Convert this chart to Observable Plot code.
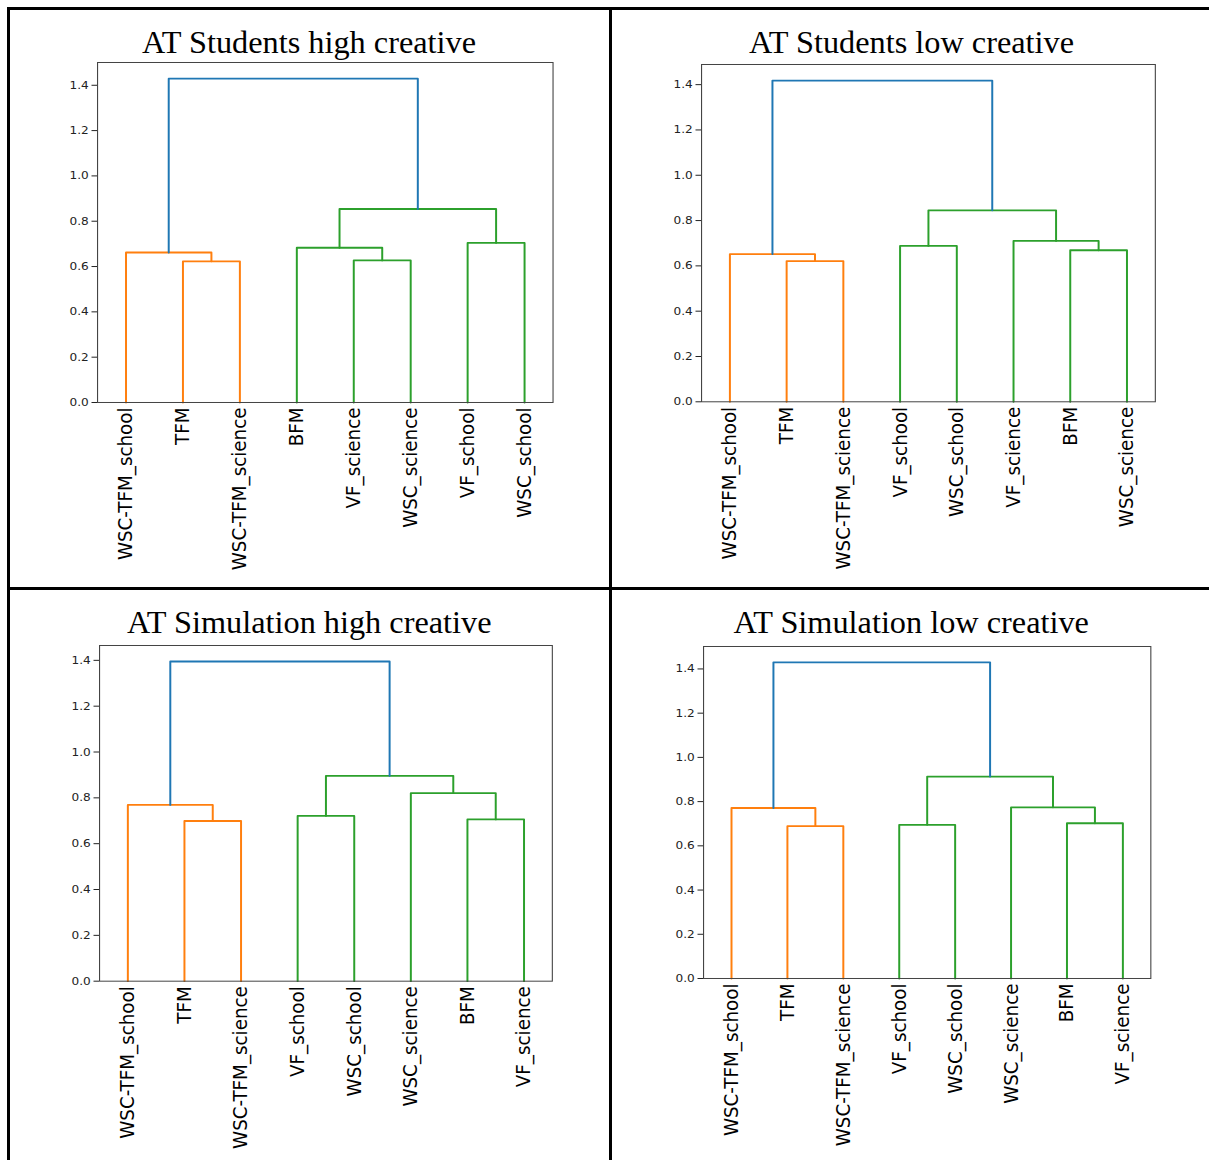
<!DOCTYPE html>
<html>
<head>
<meta charset="utf-8">
<script src="https://cdn.jsdelivr.net/npm/d3@7"></script>
<script src="https://cdn.jsdelivr.net/npm/@observablehq/plot@0.6"></script>
<style>
  html, body { margin: 0; padding: 0; background: #fff; }
  #page { position: relative; width: 1209px; height: 1160px; overflow: hidden; background: #fff; }
  .rule { position: absolute; background: #000; }
  .title { position: absolute; font-family: "Liberation Serif", "Times New Roman", serif; font-size: 32.3px;
           line-height: 1; color: #000; white-space: nowrap; transform: translateX(-50%); }
</style>
</head>
<body>
<div id="page"></div>
<script>
// ---------------- data ----------------
const titles = [
  "AT Students high creative",
  "AT Students low creative",
  "AT Simulation high creative",
  "AT Simulation low creative"
];

// leaf labels (left-to-right order)
const leavesStudentsHigh = ["WSC-TFM_school", "TFM", "WSC-TFM_science", "BFM", "VF_science", "WSC_science", "VF_school", "WSC_school"];
const leavesStudentsLow  = ["WSC-TFM_school", "TFM", "WSC-TFM_science", "VF_school", "WSC_school", "VF_science", "BFM", "WSC_science"];
const leavesSimHigh      = ["WSC-TFM_school", "TFM", "WSC-TFM_science", "VF_school", "WSC_school", "WSC_science", "BFM", "VF_science"];
const leavesSimLow       = ["WSC-TFM_school", "TFM", "WSC-TFM_science", "VF_school", "WSC_school", "WSC_science", "BFM", "VF_science"];

// linkage rows: [child a, child b, merge height]; new cluster id = 8 + row index
const mergesStudentsHigh = [[1, 2, 0.623], [0, 8, 0.662], [4, 5, 0.627], [3, 10, 0.683], [6, 7, 0.704], [11, 12, 0.854], [9, 13, 1.429]];
const mergesStudentsLow  = [[1, 2, 0.621], [0, 8, 0.652], [6, 7, 0.669], [3, 4, 0.688], [5, 10, 0.710], [11, 12, 0.845], [9, 13, 1.418]];
const mergesSimHigh      = [[1, 2, 0.699], [6, 7, 0.706], [3, 4, 0.721], [0, 8, 0.769], [5, 9, 0.821], [10, 12, 0.896], [11, 13, 1.395]];
const mergesSimLow       = [[1, 2, 0.689], [3, 4, 0.695], [6, 7, 0.702], [0, 8, 0.771], [5, 10, 0.774], [9, 12, 0.913], [11, 13, 1.430]];

const yTicks = [0, 0.2, 0.4, 0.6, 0.8, 1.0, 1.2, 1.4];
const clusterColors = ["#1f77b4", "#ff7f0e", "#2ca02c"];

const panelsData = [
  {title: titles[0], leaves: leavesStudentsHigh, merges: mergesStudentsHigh},
  {title: titles[1], leaves: leavesStudentsLow,  merges: mergesStudentsLow},
  {title: titles[2], leaves: leavesSimHigh,      merges: mergesSimHigh},
  {title: titles[3], leaves: leavesSimLow,       merges: mergesSimLow}
];

// ---------------- layout (screen positions) ----------------
const frames = [
  {x0: 96.5,  x1: 552.0,  y0: 62.0,  y1: 402, tx: 309.0, ty: 53},
  {x0: 700.5, x1: 1154.3, y0: 63.7,  y1: 401, tx: 911.5, ty: 53},
  {x0: 98.8,  x1: 551.6,  y0: 645.3, y1: 981, tx: 309.3, ty: 633},
  {x0: 703.2, x1: 1150.5, y0: 646.0, y1: 978, tx: 911.2, ty: 633}
];
const stretch = 1.1;

// ---------------- dendrogram layout from linkage ----------------
function dendrogram(leaves, merges) {
  const n = leaves.length;
  const kids = {};
  merges.forEach(([a, b, h], i) => { kids[n + i] = [a, b, h]; });
  const root = n + merges.length - 1;
  const pos = {}, hgt = {};
  const order = [];
  let k = 0;
  (function visit(id) {
    if (id < n) { pos[id] = 5 + 10 * k++; hgt[id] = 0; order.push(id); return; }
    const [a, b, h] = kids[id];
    visit(a); visit(b);
    pos[id] = (pos[a] + pos[b]) / 2; hgt[id] = h;
  })(root);
  const maxH = d3.max(merges, d => d[2]);
  const thr = 0.7 * maxH;
  const col = {};
  let c = 0;
  (function paint(id, inherited) {
    if (id < n) return;
    const [a, b, h] = kids[id];
    let cc;
    if (h >= thr) cc = clusterColors[0];
    else cc = inherited || clusterColors[1 + (c++ % (clusterColors.length - 1))];
    col[id] = cc;
    const pass = h >= thr ? null : cc;
    paint(a, pass); paint(b, pass);
  })(root, null);
  const segs = [];
  merges.forEach(([a, b, h], i) => {
    const id = n + i;
    [[pos[a], hgt[a]], [pos[a], h], [pos[b], h], [pos[b], hgt[b]]]
      .forEach(([x, y]) => segs.push({id, x, y, color: col[id]}));
  });
  const leafRows = order.map(id => ({x: pos[id], label: leaves[id]}));
  return {segs, leafRows, maxH, n};
}

// ---------------- draw ----------------
const page = document.getElementById("page");

function rule(left, top, width, height) {
  const d = document.createElement("div");
  d.className = "rule";
  Object.assign(d.style, {left: left + "px", top: top + "px", width: width + "px", height: height + "px"});
  page.appendChild(d);
}
rule(7, 7, 1202, 3);
rule(7, 7, 3, 1153);
rule(609, 7, 3, 1153);
rule(7, 587, 1202, 3);

panelsData.forEach((p, i) => {
  const f = frames[i];
  const {segs, leafRows, maxH, n} = dendrogram(p.leaves, p.merges);
  const mL = 50, mR = 12, mT = 10, mB = 190;
  const fw = (f.x1 - f.x0) / stretch;
  const fh = f.y1 - f.y0;
  const chart = Plot.plot({
    width: mL + fw + mR,
    height: mT + fh + mB,
    marginLeft: mL, marginRight: mR, marginTop: mT, marginBottom: mB,
    style: {background: "transparent", fontFamily: "DejaVu Sans", fontSize: "11px", color: "#222", overflow: "visible"},
    x: {domain: [0, 10 * n], axis: null},
    y: {domain: [0, maxH * 1.05], ticks: yTicks, tickFormat: d3.format(".1f"), tickSize: 5, tickPadding: 3, label: null},
    color: {type: "identity"},
    marks: [
      Plot.line(segs, {x: "x", y: "y", z: "id", stroke: "color", strokeWidth: 1.8}),
      Plot.frame({stroke: "#444", strokeWidth: 1}),
      Plot.text(leafRows, {x: "x", text: "label", frameAnchor: "bottom", rotate: -90,
        textAnchor: "end", lineAnchor: "middle", dy: 5, fontSize: 18.3, fill: "#000"})
    ]
  });
  chart.style.position = "absolute";
  chart.style.left = (f.x0 - stretch * mL) + "px";
  chart.style.top = (f.y0 - mT) + "px";
  chart.style.transformOrigin = "0 0";
  chart.style.transform = `scale(${stretch}, 1)`;
  page.appendChild(chart);

  const t = document.createElement("div");
  t.className = "title";
  t.textContent = p.title;
  t.style.left = f.tx + "px";
  t.style.top = (f.ty - 27) + "px";
  page.appendChild(t);
});
</script>
</body>
</html>
